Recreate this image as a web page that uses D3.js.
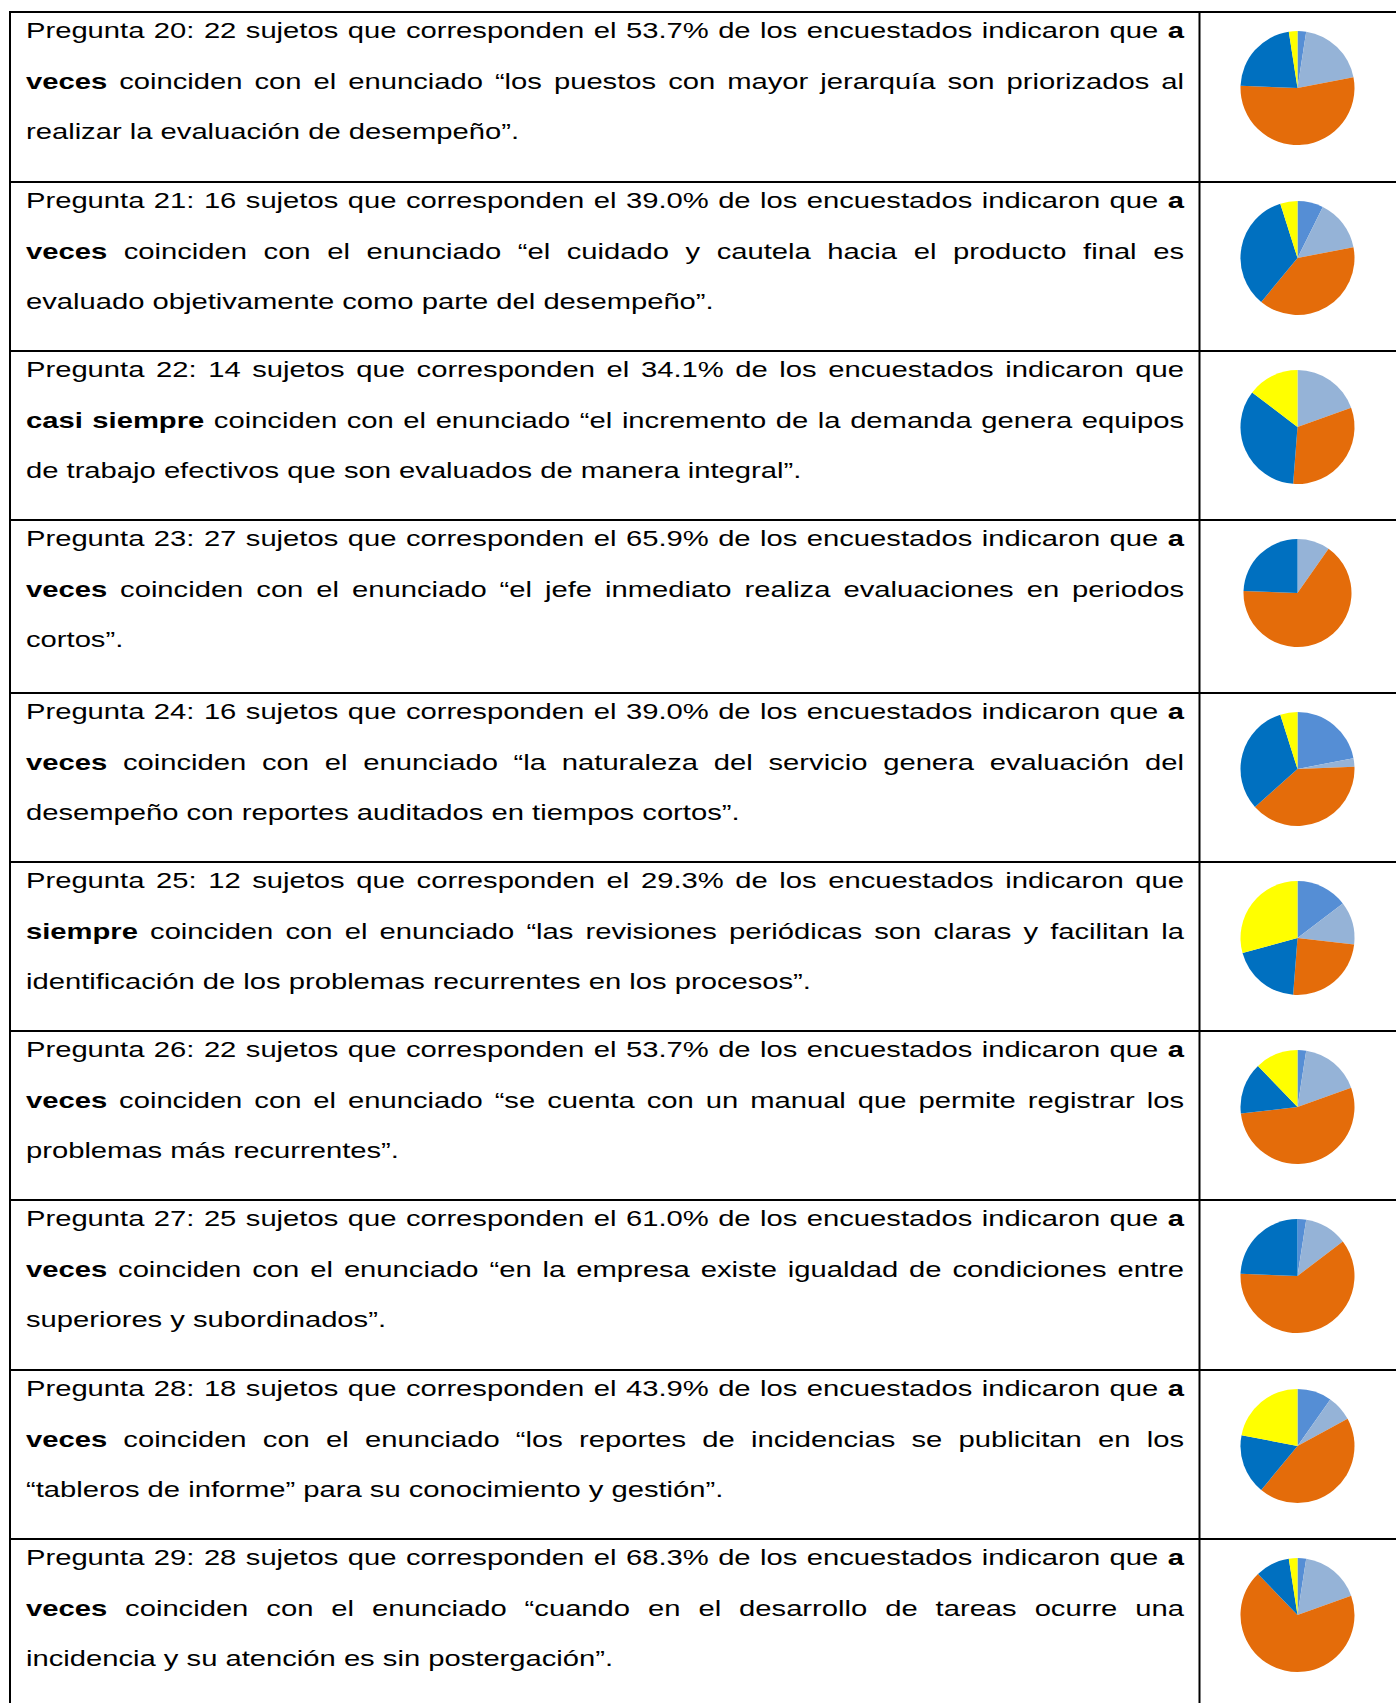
<!DOCTYPE html>
<html>
<head>
<meta charset="utf-8">
<script src="https://cdn.jsdelivr.net/npm/d3@7"></script>
<style>
body { margin: 0; background: #fff; }
svg { display: block; }
</style>
</head>
<body>
<div id="chart"></div>
<script>
// answer categories and counts per question (41 respondents)
var categories = ["Nunca", "Casi nunca", "A veces", "Casi siempre", "Siempre"];
var questions = [20, 21, 22, 23, 24, 25, 26, 27, 28, 29];
var nunca       = [1, 3, 0, 0, 9, 6, 1, 1, 4, 1];
var casiNunca   = [8, 6, 8, 4, 1, 5, 7, 5, 3, 7];
var aVeces      = [22, 16, 13, 27, 16, 10, 22, 25, 18, 28];
var casiSiempre = [9, 14, 14, 10, 13, 8, 6, 10, 7, 4];
var siempre     = [1, 2, 6, 0, 2, 12, 5, 0, 9, 1];

// paragraph text, line by line as printed (**bold**)
var texts = [
    ["Pregunta 20: 22 sujetos que corresponden el 53.7% de los encuestados indicaron que **a**",
     "**veces** coinciden con el enunciado “los puestos con mayor jerarquía son priorizados al",
     "realizar la evaluación de desempeño”."],
    ["Pregunta 21: 16 sujetos que corresponden el 39.0% de los encuestados indicaron que **a**",
     "**veces** coinciden con el enunciado “el cuidado y cautela hacia el producto final es",
     "evaluado objetivamente como parte del desempeño”."],
    ["Pregunta 22: 14 sujetos que corresponden el 34.1% de los encuestados indicaron que",
     "**casi siempre** coinciden con el enunciado “el incremento de la demanda genera equipos",
     "de trabajo efectivos que son evaluados de manera integral”."],
    ["Pregunta 23: 27 sujetos que corresponden el 65.9% de los encuestados indicaron que **a**",
     "**veces** coinciden con el enunciado “el jefe inmediato realiza evaluaciones en periodos",
     "cortos”."],
    ["Pregunta 24: 16 sujetos que corresponden el 39.0% de los encuestados indicaron que **a**",
     "**veces** coinciden con el enunciado “la naturaleza del servicio genera evaluación del",
     "desempeño con reportes auditados en tiempos cortos”."],
    ["Pregunta 25: 12 sujetos que corresponden el 29.3% de los encuestados indicaron que",
     "**siempre** coinciden con el enunciado “las revisiones periódicas son claras y facilitan la",
     "identificación de los problemas recurrentes en los procesos”."],
    ["Pregunta 26: 22 sujetos que corresponden el 53.7% de los encuestados indicaron que **a**",
     "**veces** coinciden con el enunciado “se cuenta con un manual que permite registrar los",
     "problemas más recurrentes”."],
    ["Pregunta 27: 25 sujetos que corresponden el 61.0% de los encuestados indicaron que **a**",
     "**veces** coinciden con el enunciado “en la empresa existe igualdad de condiciones entre",
     "superiores y subordinados”."],
    ["Pregunta 28: 18 sujetos que corresponden el 43.9% de los encuestados indicaron que **a**",
     "**veces** coinciden con el enunciado “los reportes de incidencias se publicitan en los",
     "“tableros de informe” para su conocimiento y gestión”."],
    ["Pregunta 29: 28 sujetos que corresponden el 68.3% de los encuestados indicaron que **a**",
     "**veces** coinciden con el enunciado “cuando en el desarrollo de tareas ocurre una",
     "incidencia y su atención es sin postergación”."]
];

var colors = ["#558ED5", "#95B3D7", "#E46C0A", "#0070C0", "#FFFF00"];

var width = 1396, height = 1703;
var rowTops = [12, 182, 351, 520, 693, 862, 1031, 1200, 1370, 1539];
var tableLeft = 10, divider = 1199.5;
var textLeft = 26, textRight = 1184;
var fontSize = 22, sx = 1.327, firstBase = 26, lineGap = 50.5;

var svg = d3.select("#chart").append("svg")
    .attr("width", width)
    .attr("height", height);

var color = d3.scaleOrdinal().domain(categories).range(colors);

// table grid
var grid = svg.append("g").attr("stroke", "#000").attr("stroke-width", 2);
grid.selectAll(".hline").data(rowTops).enter().append("line")
    .attr("x1", tableLeft - 1).attr("x2", width)
    .attr("y1", function(d) { return d; })
    .attr("y2", function(d) { return d; });
grid.selectAll(".vline").data([tableLeft, divider]).enter().append("line")
    .attr("x1", function(d) { return d; })
    .attr("x2", function(d) { return d; })
    .attr("y1", rowTops[0] - 1).attr("y2", height);

// split a line into words, keeping track of bold runs
function parseWords(line) {
    var bold = false;
    return line.split(" ").map(function(tok) {
        if (tok.indexOf("**") == 0) { bold = true; tok = tok.slice(2); }
        var b = bold;
        if (tok.slice(-2) == "**") { bold = false; tok = tok.slice(0, -2); }
        return {t: tok, b: b};
    });
}

var spaceW = fontSize * 0.278;
var innerW = (textRight - textLeft) / sx;

texts.forEach(function(rowLines, r) {
    rowLines.forEach(function(line, li) {
        var justify = li < rowLines.length - 1;
        var g = svg.append("g")
            .attr("transform", "translate(" + textLeft + "," + (rowTops[r] + firstBase + li * lineGap) + ") scale(" + sx + ",1)")
            .style("font-family", "'Liberation Sans', Arial, sans-serif")
            .style("font-size", fontSize + "px")
            .attr("fill", "#000");

        var words = parseWords(line);
        var nodes = words.map(function(w) {
            return g.append("text")
                .attr("font-weight", w.b ? "bold" : "normal")
                .text(w.t);
        });
        var widths = nodes.map(function(n) { return n.node().getComputedTextLength(); });
        var total = d3.sum(widths);
        var gap = justify ? (innerW - total) / (words.length - 1) : spaceW;
        var x = 0;
        nodes.forEach(function(n, i) {
            n.attr("x", x);
            x += widths[i] + gap;
        });
    });
});

// pies
var pie = d3.pie().sort(null).value(function(d) { return d.count; });

questions.forEach(function(q, i) {
    var data = categories.map(function(c, k) {
        return {label: c, count: [nunca, casiNunca, aVeces, casiSiempre, siempre][k][i]};
    });
    var r = (i == 3) ? 54 : 57;
    var cy = rowTops[i] + (i == 3 ? 73 : 76);
    var arc = d3.arc().innerRadius(0).outerRadius(r);

    svg.append("g")
        .attr("transform", "translate(1297.5," + cy + ")")
        .selectAll("path")
        .data(pie(data))
        .enter().append("path")
        .attr("d", arc)
        .attr("fill", function(d) { return color(d.data.label); });
});
</script>
</body>
</html>
